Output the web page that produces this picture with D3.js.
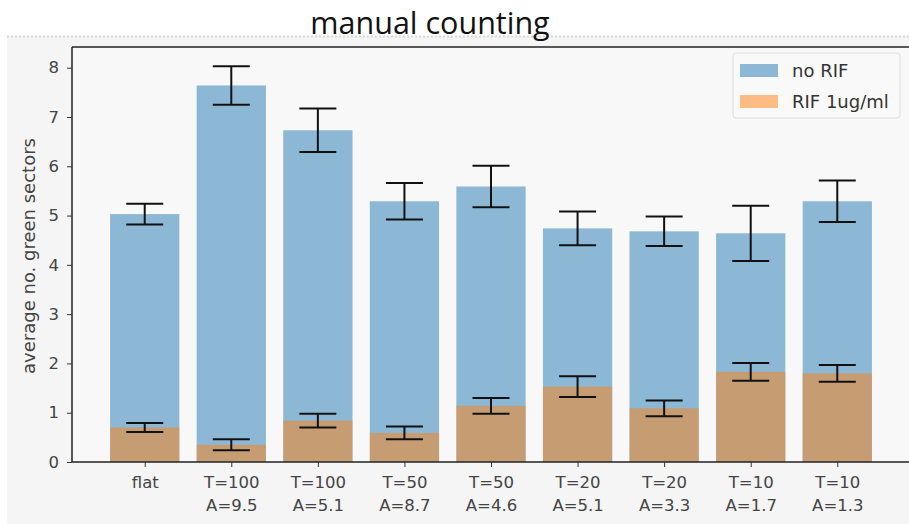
<!DOCTYPE html>
<html>
<head>
<meta charset="utf-8">
<script src="https://cdn.jsdelivr.net/npm/d3@7"></script>
<style>
  html, body { margin: 0; padding: 0; background: #ffffff; }
  svg { display: block; }
</style>
</head>
<body>
<svg id="chart" width="909" height="524"></svg>
<script>
// categories (two-line tick labels)
const categories = [
  ["flat", ""], ["T=100", "A=9.5"], ["T=100", "A=5.1"], ["T=50", "A=8.7"],
  ["T=50", "A=4.6"], ["T=20", "A=5.1"], ["T=20", "A=3.3"], ["T=10", "A=1.7"], ["T=10", "A=1.3"]
];
// series: no RIF
const noRif = [5.03, 7.64, 6.73, 5.29, 5.59, 4.74, 4.68, 4.64, 5.29];
const noRifErr = [0.21, 0.39, 0.44, 0.37, 0.42, 0.34, 0.30, 0.56, 0.42];
// series: RIF 1ug/ml
const rif = [0.70, 0.35, 0.84, 0.59, 1.14, 1.53, 1.09, 1.83, 1.80];
const rifErr = [0.09, 0.11, 0.14, 0.13, 0.16, 0.21, 0.16, 0.18, 0.17];
const yTicks = [0, 1, 2, 3, 4, 5, 6, 7, 8];
const legendLabels = ["no RIF", "RIF 1ug/ml"];

const svg = d3.select("#chart");
const margin = {top: 47, left: 72, bottom: 462, right: 910};
const font = "'DejaVu Sans', sans-serif";

// page background
svg.append("rect").attr("x", 7).attr("y", 36).attr("width", 902).attr("height", 488)
    .attr("fill", "#f5f5f5");
svg.append("line").attr("x1", 7).attr("x2", 909).attr("y1", 36.5).attr("y2", 36.5)
    .attr("stroke", "#d8d8d8").attr("stroke-width", 2).attr("stroke-dasharray", "2,2");

// title
svg.append("text")
    .attr("x", 430).attr("y", 33.5)
    .attr("text-anchor", "middle")
    .style("font-family", "'Open Sans', 'Noto Sans', sans-serif")
    .style("font-size", "30.5px")
    .attr("fill", "#111")
    .text("manual counting");

let x = d3.scaleLinear().domain([-0.84, 8.84]).range([margin.left, margin.right]);
let y = d3.scaleLinear().domain([0, 8.42]).range([margin.bottom, margin.top]);
const bw = x(0.4) - x(-0.4);

// axes area
svg.append("rect").attr("x", margin.left).attr("y", margin.top)
    .attr("width", margin.right - margin.left).attr("height", margin.bottom - margin.top)
    .attr("fill", "#f8f8f8");

let g = svg.append("g");

function drawSeries(vals, color) {
    g.selectAll(null).data(vals).enter().append("rect")
        .attr("x", (d, i) => x(i) - bw / 2)
        .attr("y", d => y(d))
        .attr("width", bw)
        .attr("height", d => y(0) - y(d))
        .attr("fill", color)
        .attr("fill-opacity", 0.5);
}
drawSeries(noRif, "#1f77b4");
drawSeries(rif, "#ff7f0e");

function drawErr(vals, errs) {
    const cap = 18.5;
    const eg = g.selectAll(null).data(vals).enter().append("g").attr("stroke", "#111").attr("stroke-width", 2);
    eg.append("line")
        .attr("x1", (d, i) => x(i)).attr("x2", (d, i) => x(i))
        .attr("y1", (d, i) => y(d + errs[i])).attr("y2", (d, i) => y(d - errs[i]));
    eg.append("line")
        .attr("x1", (d, i) => x(i) - cap).attr("x2", (d, i) => x(i) + cap)
        .attr("y1", (d, i) => y(d + errs[i])).attr("y2", (d, i) => y(d + errs[i]));
    eg.append("line")
        .attr("x1", (d, i) => x(i) - cap).attr("x2", (d, i) => x(i) + cap)
        .attr("y1", (d, i) => y(d - errs[i])).attr("y2", (d, i) => y(d - errs[i]));
}
drawErr(noRif, noRifErr);
drawErr(rif, rifErr);

// spines
svg.append("line").attr("x1", margin.left).attr("x2", margin.left).attr("y1", margin.top).attr("y2", margin.bottom)
    .attr("stroke", "#222").attr("stroke-width", 1.5);
svg.append("line").attr("x1", margin.left).attr("x2", margin.right).attr("y1", margin.bottom).attr("y2", margin.bottom)
    .attr("stroke", "#222").attr("stroke-width", 1.5);
svg.append("line").attr("x1", margin.left).attr("x2", margin.right).attr("y1", margin.top).attr("y2", margin.top)
    .attr("stroke", "#222").attr("stroke-width", 1.5);

// y axis
let yAxis = svg.append("g")
    .attr("transform", "translate(" + margin.left + ",0)")
    .call(d3.axisLeft(y).tickValues(yTicks).tickSize(5).tickPadding(8).tickFormat(d3.format("d")));
yAxis.select(".domain").remove();
yAxis.selectAll("line").attr("stroke", "#333");
yAxis.selectAll("text")
    .style("font-family", font).style("font-size", "16.5px").attr("fill", "#444");

// x axis
let xAxis = svg.append("g")
    .attr("transform", "translate(0," + margin.bottom + ")")
    .call(d3.axisBottom(x).tickValues(d3.range(categories.length)).tickSize(5).tickFormat(""));
xAxis.select(".domain").remove();
xAxis.selectAll("line").attr("stroke", "#333");
xAxis.selectAll(".tick").each(function(d) {
    const t = d3.select(this).append("text")
        .attr("fill", "#444")
        .attr("text-anchor", "middle")
        .style("font-family", font).style("font-size", "16.5px");
    t.append("tspan").attr("x", 0).attr("y", 26).text(categories[d][0]);
    t.append("tspan").attr("x", 0).attr("y", 49).text(categories[d][1]);
});

// y label
svg.append("text")
    .attr("transform", "translate(35,256) rotate(-90)")
    .attr("text-anchor", "middle")
    .style("font-family", font).style("font-size", "18px")
    .attr("fill", "#444")
    .text("average no. green sectors");

// legend
let legend = svg.append("g").attr("transform", "translate(733,53)");
legend.append("rect").attr("width", 167).attr("height", 65).attr("rx", 3)
    .attr("fill", "#f9f9f9").attr("stroke", "#ddd");
const legendColors = ["#1f77b4", "#ff7f0e"];
legendLabels.forEach(function(lbl, i) {
    legend.append("rect").attr("x", 7).attr("y", 11 + i * 31).attr("width", 38).attr("height", 13)
        .attr("fill", legendColors[i]).attr("fill-opacity", 0.5);
    legend.append("text").attr("x", 59).attr("y", 24 + i * 31)
        .style("font-family", font).style("font-size", "18px")
        .attr("fill", "#333").text(lbl);
});
</script>
</body>
</html>
